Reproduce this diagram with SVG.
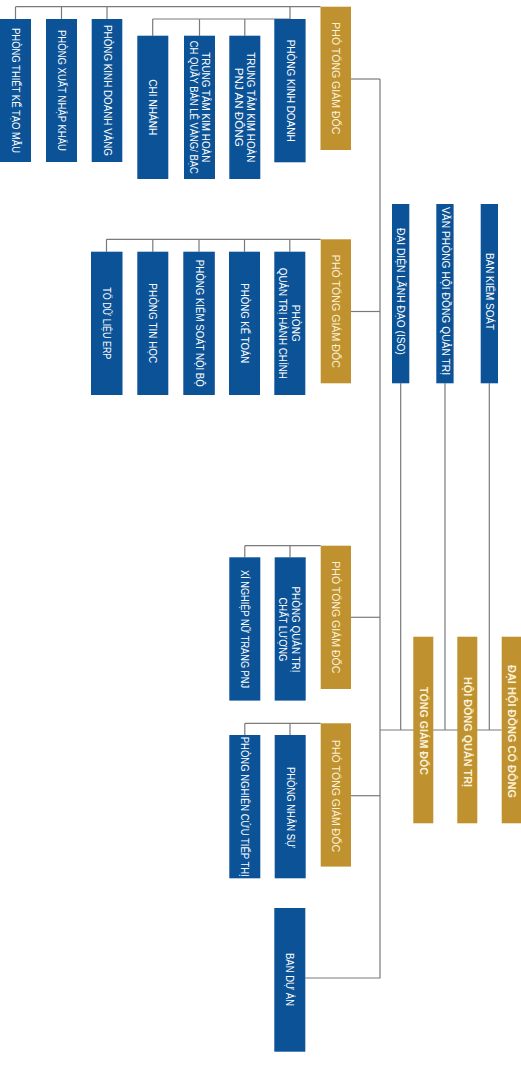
<svg xmlns="http://www.w3.org/2000/svg" width="521" height="1080" viewBox="0 0 521 1080">
<style>
.b{fill:#0b5297}
.g{fill:#c0912f}
.t{font-family:"Liberation Sans","DejaVu Sans",sans-serif;font-size:10.3px;fill:#ffffff;text-anchor:middle;dominant-baseline:central}
.gt{fill:#fbf1d8}
.bd{font-weight:bold}
.c{fill:none;stroke:#7a7a7a;stroke-width:1.2}
</style>
<rect width="521" height="1080" fill="#ffffff"/>
<g id="connectors">
<path class="c" d="M15.5,6.7H320.5M15.5,6.7V19M61.5,6.7V19M107,6.7V19M290,6.7V19"/>
<path class="c" d="M152.7,19H290M152.7,19V35.7M199.5,19V35.7M244.8,19V35.7"/>
<path class="c" d="M351,79H380"/>
<path class="c" d="M106.5,239.3H320.7M106.5,239.3V251.7M152.8,239.3V251.7M199,239.3V251.7M244.5,239.3V251.7M289.8,239.3V251.7"/>
<path class="c" d="M351,311.5H380"/>
<path class="c" d="M244.8,545.7H320.7M244.8,545.7V557.3M290,545.7V557.3"/>
<path class="c" d="M351,617.3H380"/>
<path class="c" d="M244.8,723.3H320.7M244.8,723.3V735M290,723.3V735"/>
<path class="c" d="M351,795.7H380"/>
<path class="c" d="M305.3,978H380V79"/>
<path class="c" d="M380,730H501.7"/>
<path class="c" d="M400.7,383.3V730M445,383.3V730M489.3,383.3V730"/>
</g>
<g id="n_tk"><rect class="b" x="0" y="19" width="31" height="143"/><text class="t" transform="translate(15.5,90.5) rotate(90)" textLength="125" lengthAdjust="spacingAndGlyphs">PHÒNG THIẾT KẾ TẠO MẪU</text></g>
<g id="n_xnk"><rect class="b" x="46" y="19" width="31" height="143"/><text class="t" transform="translate(61.5,90.5) rotate(90)" textLength="121" lengthAdjust="spacingAndGlyphs">PHÒNG XUẤT NHẬP KHẨU</text></g>
<g id="n_kdv"><rect class="b" x="91.7" y="19" width="30.6" height="143"/><text class="t" transform="translate(107,90.5) rotate(90)" textLength="131" lengthAdjust="spacingAndGlyphs">PHÒNG KINH DOANH VÀNG</text></g>
<g id="n_cn"><rect class="b" x="137.3" y="35.7" width="31" height="143.3"/><text class="t" transform="translate(152.8,107.3) rotate(90)" textLength="56" lengthAdjust="spacingAndGlyphs">CHI NHÁNH</text></g>
<g id="n_ttch"><rect class="b" x="184" y="35.7" width="31" height="143.3"/><text class="t" transform="translate(199.5,107.3) rotate(90)"><tspan x="0" y="-6" textLength="110" lengthAdjust="spacingAndGlyphs">TRUNG TÂM KIM HOÀN</tspan><tspan x="0" y="6" textLength="133" lengthAdjust="spacingAndGlyphs">CH QUẦY BÁN LẺ VÀNG/ BẠC</tspan></text></g>
<g id="n_ttpnj"><rect class="b" x="229.3" y="35.7" width="31" height="143.3"/><text class="t" transform="translate(244.8,107.3) rotate(90)"><tspan x="0" y="-6" textLength="110" lengthAdjust="spacingAndGlyphs">TRUNG TÂM KIM HOÀN</tspan><tspan x="0" y="6" textLength="79" lengthAdjust="spacingAndGlyphs">PNJ AN ĐÔNG</tspan></text></g>
<g id="n_pkd"><rect class="b" x="274.3" y="19" width="31.3" height="143.3"/><text class="t" transform="translate(290,90.7) rotate(90)" textLength="102" lengthAdjust="spacingAndGlyphs">PHÒNG KINH DOANH</text></g>
<g id="g1"><rect class="g" x="320.5" y="6.7" width="30.5" height="143.3"/><text class="t gt" transform="translate(335.8,78.3) rotate(90)" textLength="112" lengthAdjust="spacingAndGlyphs">PHÓ TỔNG GIÁM ĐỐC</text></g>
<g id="n_erp"><rect class="b" x="91" y="251.7" width="31.5" height="143.3"/><text class="t" transform="translate(106.7,323.3) rotate(90)" textLength="72" lengthAdjust="spacingAndGlyphs">TỔ DỮ LIỆU ERP</text></g>
<g id="n_th"><rect class="b" x="137.3" y="251.7" width="31" height="143.3"/><text class="t" transform="translate(152.8,323.3) rotate(90)" textLength="80" lengthAdjust="spacingAndGlyphs">PHÒNG TIN HỌC</text></g>
<g id="n_ks"><rect class="b" x="183.3" y="251.7" width="31.5" height="143.3"/><text class="t" transform="translate(199,323.3) rotate(90)" textLength="127" lengthAdjust="spacingAndGlyphs">PHÒNG KIỂM SOÁT NỘI BỘ</text></g>
<g id="n_kt"><rect class="b" x="229" y="251.7" width="31" height="143.3"/><text class="t" transform="translate(244.5,323.3) rotate(90)" textLength="80" lengthAdjust="spacingAndGlyphs">PHÒNG KẾ TOÁN</text></g>
<g id="n_hc"><rect class="b" x="274.3" y="251.7" width="31" height="143.3"/><text class="t" transform="translate(289.8,323.3) rotate(90)"><tspan x="0" y="-6.5" textLength="37" lengthAdjust="spacingAndGlyphs">PHÒNG</tspan><tspan x="0" y="6.5" textLength="111" lengthAdjust="spacingAndGlyphs">QUẢN TRỊ HÀNH CHÍNH</tspan></text></g>
<g id="g2"><rect class="g" x="320.7" y="239.3" width="30.3" height="144"/><text class="t gt" transform="translate(335.8,311.3) rotate(90)" textLength="113" lengthAdjust="spacingAndGlyphs">PHÓ TỔNG GIÁM ĐỐC</text></g>
<g id="n_iso"><rect class="b" x="392" y="204" width="17.3" height="179.3"/><text class="t" transform="translate(400.7,291.5) rotate(90)" textLength="127" lengthAdjust="spacingAndGlyphs">ĐẠI DIỆN LÃNH ĐẠO (ISO)</text></g>
<g id="n_vp"><rect class="b" x="436.3" y="204" width="17.3" height="179.3"/><text class="t" transform="translate(445,291) rotate(90)" textLength="168" lengthAdjust="spacingAndGlyphs">VĂN PHÒNG HỘI ĐỒNG QUẢN TRỊ</text></g>
<g id="n_bks"><rect class="b" x="480.7" y="204" width="17.3" height="179.3"/><text class="t" transform="translate(489.3,291.5) rotate(90)" textLength="77" lengthAdjust="spacingAndGlyphs">BAN KIỂM SOÁT</text></g>
<g id="n_xn"><rect class="b" x="229.3" y="557.3" width="31" height="143.3"/><text class="t" transform="translate(244.8,629) rotate(90)" textLength="118" lengthAdjust="spacingAndGlyphs">XÍ NGHIỆP NỮ TRANG PNJ</text></g>
<g id="n_cl"><rect class="b" x="274.7" y="557.3" width="31" height="143.3"/><text class="t" transform="translate(289.5,629.5) rotate(90)"><tspan x="0" y="-6.5" textLength="86" lengthAdjust="spacingAndGlyphs">PHÒNG QUẢN TRỊ</tspan><tspan x="0" y="6.5" textLength="64" lengthAdjust="spacingAndGlyphs">CHẤT LƯỢNG</tspan></text></g>
<g id="g3"><rect class="g" x="320.7" y="545.7" width="30.3" height="143.3"/><text class="t gt" transform="translate(335.8,617.3) rotate(90)" textLength="112" lengthAdjust="spacingAndGlyphs">PHÓ TỔNG GIÁM ĐỐC</text></g>
<g id="n_nc"><rect class="b" x="229.3" y="735" width="31" height="143.3"/><text class="t" transform="translate(244.8,806.7) rotate(90)" textLength="140" lengthAdjust="spacingAndGlyphs">PHÒNG NGHIÊN CỨU TIẾP THỊ</text></g>
<g id="n_ns"><rect class="b" x="274.7" y="735" width="31" height="143.3"/><text class="t" transform="translate(290.2,807.5) rotate(90)" textLength="81" lengthAdjust="spacingAndGlyphs">PHÒNG NHÂN SỰ</text></g>
<g id="g4"><rect class="g" x="320.7" y="723.3" width="30.3" height="143.3"/><text class="t gt" transform="translate(335.8,796) rotate(90)" textLength="112" lengthAdjust="spacingAndGlyphs">PHÓ TỔNG GIÁM ĐỐC</text></g>
<g id="n_tgd"><rect class="g" x="413.3" y="636.7" width="20" height="186.6"/><text class="t gt bd" transform="translate(423.3,731) rotate(90)" textLength="88" lengthAdjust="spacingAndGlyphs">TỔNG GIÁM ĐỐC</text></g>
<g id="n_hdqt"><rect class="g" x="457.3" y="636.7" width="20" height="186.6"/><text class="t gt bd" transform="translate(467.3,732) rotate(90)" textLength="110" lengthAdjust="spacingAndGlyphs">HỘI ĐỒNG QUẢN TRỊ</text></g>
<g id="n_dhcd"><rect class="g" x="501.7" y="636.7" width="19.3" height="186.6"/><text class="t gt bd" transform="translate(511.3,731.5) rotate(90)" textLength="133" lengthAdjust="spacingAndGlyphs">ĐẠI HỘI ĐỒNG CỔ ĐÔNG</text></g>
<g id="n_bda"><rect class="b" x="274.3" y="908" width="31" height="143.7"/><text class="t" transform="translate(289.8,979.5) rotate(90)" textLength="53" lengthAdjust="spacingAndGlyphs">BAN DỰ ÁN</text></g>
</svg>
